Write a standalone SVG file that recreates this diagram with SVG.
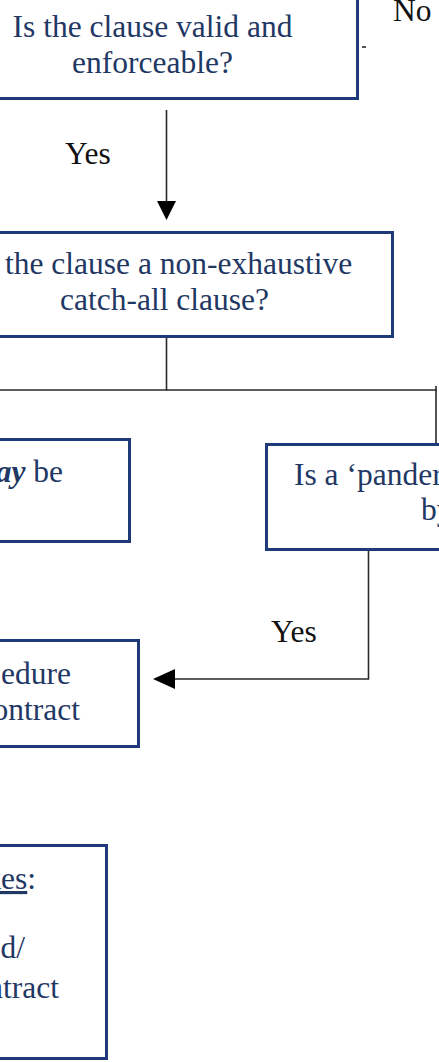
<svg xmlns="http://www.w3.org/2000/svg" width="439" height="1062" viewBox="0 0 439 1062">
  <style>
    .box { fill: #ffffff; stroke: #1f3a78; stroke-width: 3; }
    .t { font-family: "Liberation Serif", "Times New Roman", serif; font-size: 31.5px; fill: #1f3864; }
    .lbl { font-family: "Liberation Serif", "Times New Roman", serif; font-size: 31.5px; fill: #111111; }
    .conn { fill: none; stroke: #2a2a2a; stroke-width: 1.6; }
  </style>
  <defs>
    <marker id="arrow" viewBox="0 0 10 10" refX="10" refY="5" markerWidth="10" markerHeight="10" markerUnits="userSpaceOnUse" orient="auto">
      <path d="M0,0 L10,5 L0,10 z" fill="#000000"/>
    </marker>
  </defs>
  <rect width="439" height="1062" fill="#ffffff"/>

  <g id="connectors">
    <line class="conn" x1="166.5" y1="110" x2="166.5" y2="202"/>
    <path d="M157,201 L176,201 L166.5,220 z" fill="#000000"/>
    <line class="conn" x1="362" y1="47" x2="366" y2="47"/>
    <polyline class="conn" points="166.5,338 166.5,390 0,390"/>
    <polyline class="conn" points="166.5,390 436,390 436,443"/>
    <line class="conn" x1="436" y1="386" x2="436" y2="391"/>
    <polyline class="conn" points="368.5,551 368.5,679 172,679"/>
    <path d="M153,679 L175,669 L175,689 z" fill="#000000"/>
    <text class="lbl" x="65" y="164">Yes</text>
    <text class="lbl" x="393" y="21">No</text>
    <text class="lbl" x="271" y="642">Yes</text>
  </g>

  <g id="node-valid">
    <rect class="box" x="-60" y="-20" width="417.5" height="118.5"/>
    <text class="t" x="152.5" y="37" text-anchor="middle">Is the clause valid and</text>
    <text class="t" x="152.5" y="73" text-anchor="middle">enforceable?</text>
  </g>

  <g id="node-catchall">
    <rect class="box" x="-60" y="232.5" width="452.5" height="104"/>
    <text class="t" x="5" y="274">the clause a non-exhaustive</text>
    <text class="t" x="164.5" y="310" text-anchor="middle">catch-all clause?</text>
  </g>

  <g id="node-may">
    <rect class="box" x="-60" y="439.5" width="189.5" height="102"/>
    <text class="t" x="63" y="482" text-anchor="end"><tspan font-weight="bold" font-style="italic">ay</tspan> be</text>
  </g>

  <g id="node-pander">
    <rect class="box" x="266.5" y="444.5" width="200" height="105"/>
    <text class="t" x="294" y="485">Is a ‘pander</text>
    <text class="t" x="421" y="520">by</text>
  </g>

  <g id="node-procedure">
    <rect class="box" x="-60" y="640.5" width="198.5" height="106"/>
    <text class="t" x="71" y="684" text-anchor="end">edure</text>
    <text class="t" x="80" y="720" text-anchor="end">ontract</text>
  </g>

  <g id="node-notes">
    <rect class="box" x="-60" y="845.5" width="166.5" height="213"/>
    <text class="t" x="36" y="889" text-anchor="end"><tspan text-decoration="underline">kes</tspan>:</text>
    <text class="t" x="25" y="958" text-anchor="end">d/</text>
    <text class="t" x="59" y="998" text-anchor="end">ntract</text>
  </g>
</svg>
